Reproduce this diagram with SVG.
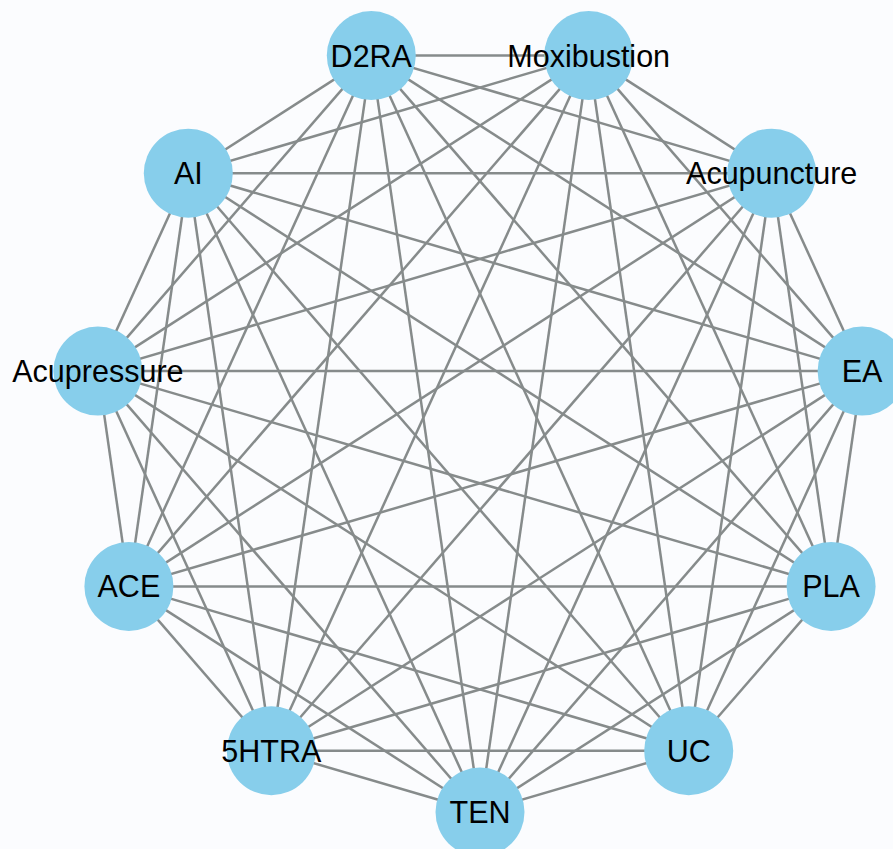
<svg xmlns="http://www.w3.org/2000/svg" width="893" height="849" viewBox="0 0 893 849">
<style>
.e{stroke:#868b8b;stroke-width:2.5;fill:none}
.n circle{fill:#87ceeb}
.n text{font-family:"Liberation Sans",Arial,sans-serif;font-size:30.5px;fill:#000;text-anchor:middle}
</style>
<rect width="893" height="849" fill="#fbfcfe"/>
<g id="edges" class="e">
<line x1="371.3" y1="55.6" x2="588.7" y2="55.6"/>
<line x1="371.3" y1="55.6" x2="771.7" y2="173.2"/>
<line x1="371.3" y1="55.6" x2="862.1" y2="371.1"/>
<line x1="371.3" y1="55.6" x2="831.1" y2="586.4"/>
<line x1="371.3" y1="55.6" x2="688.7" y2="750.7"/>
<line x1="371.3" y1="55.6" x2="480" y2="812"/>
<line x1="371.3" y1="55.6" x2="271.3" y2="750.7"/>
<line x1="371.3" y1="55.6" x2="128.9" y2="586.4"/>
<line x1="371.3" y1="55.6" x2="97.9" y2="371.1"/>
<line x1="371.3" y1="55.6" x2="188.3" y2="173.2"/>
<line x1="588.7" y1="55.6" x2="771.7" y2="173.2"/>
<line x1="588.7" y1="55.6" x2="862.1" y2="371.1"/>
<line x1="588.7" y1="55.6" x2="831.1" y2="586.4"/>
<line x1="588.7" y1="55.6" x2="688.7" y2="750.7"/>
<line x1="588.7" y1="55.6" x2="480" y2="812"/>
<line x1="588.7" y1="55.6" x2="271.3" y2="750.7"/>
<line x1="588.7" y1="55.6" x2="128.9" y2="586.4"/>
<line x1="588.7" y1="55.6" x2="97.9" y2="371.1"/>
<line x1="588.7" y1="55.6" x2="188.3" y2="173.2"/>
<line x1="771.7" y1="173.2" x2="862.1" y2="371.1"/>
<line x1="771.7" y1="173.2" x2="831.1" y2="586.4"/>
<line x1="771.7" y1="173.2" x2="688.7" y2="750.7"/>
<line x1="771.7" y1="173.2" x2="480" y2="812"/>
<line x1="771.7" y1="173.2" x2="271.3" y2="750.7"/>
<line x1="771.7" y1="173.2" x2="128.9" y2="586.4"/>
<line x1="771.7" y1="173.2" x2="97.9" y2="371.1"/>
<line x1="771.7" y1="173.2" x2="188.3" y2="173.2"/>
<line x1="862.1" y1="371.1" x2="831.1" y2="586.4"/>
<line x1="862.1" y1="371.1" x2="688.7" y2="750.7"/>
<line x1="862.1" y1="371.1" x2="480" y2="812"/>
<line x1="862.1" y1="371.1" x2="271.3" y2="750.7"/>
<line x1="862.1" y1="371.1" x2="128.9" y2="586.4"/>
<line x1="862.1" y1="371.1" x2="97.9" y2="371.1"/>
<line x1="862.1" y1="371.1" x2="188.3" y2="173.2"/>
<line x1="831.1" y1="586.4" x2="688.7" y2="750.7"/>
<line x1="831.1" y1="586.4" x2="480" y2="812"/>
<line x1="831.1" y1="586.4" x2="271.3" y2="750.7"/>
<line x1="831.1" y1="586.4" x2="128.9" y2="586.4"/>
<line x1="831.1" y1="586.4" x2="97.9" y2="371.1"/>
<line x1="831.1" y1="586.4" x2="188.3" y2="173.2"/>
<line x1="688.7" y1="750.7" x2="480" y2="812"/>
<line x1="688.7" y1="750.7" x2="271.3" y2="750.7"/>
<line x1="688.7" y1="750.7" x2="128.9" y2="586.4"/>
<line x1="688.7" y1="750.7" x2="97.9" y2="371.1"/>
<line x1="688.7" y1="750.7" x2="188.3" y2="173.2"/>
<line x1="480" y1="812" x2="271.3" y2="750.7"/>
<line x1="480" y1="812" x2="128.9" y2="586.4"/>
<line x1="480" y1="812" x2="97.9" y2="371.1"/>
<line x1="480" y1="812" x2="188.3" y2="173.2"/>
<line x1="271.3" y1="750.7" x2="128.9" y2="586.4"/>
<line x1="271.3" y1="750.7" x2="97.9" y2="371.1"/>
<line x1="271.3" y1="750.7" x2="188.3" y2="173.2"/>
<line x1="128.9" y1="586.4" x2="97.9" y2="371.1"/>
<line x1="128.9" y1="586.4" x2="188.3" y2="173.2"/>
<line x1="97.9" y1="371.1" x2="188.3" y2="173.2"/>
</g>
<g id="D2RA" class="n"><circle cx="371.3" cy="55.6" r="44.5"/><text x="371.3" y="66.6">D2RA</text></g>
<g id="Moxibustion" class="n"><circle cx="588.7" cy="55.6" r="44.5"/><text x="588.7" y="66.6">Moxibustion</text></g>
<g id="Acupuncture" class="n"><circle cx="771.7" cy="173.2" r="44.5"/><text x="771.7" y="184.2">Acupuncture</text></g>
<g id="EA" class="n"><circle cx="862.1" cy="371.1" r="44.5"/><text x="862.1" y="382.1">EA</text></g>
<g id="PLA" class="n"><circle cx="831.1" cy="586.4" r="44.5"/><text x="831.1" y="597.4">PLA</text></g>
<g id="UC" class="n"><circle cx="688.7" cy="750.7" r="44.5"/><text x="688.7" y="761.7">UC</text></g>
<g id="TEN" class="n"><circle cx="480" cy="812" r="44.5"/><text x="480" y="823">TEN</text></g>
<g id="5HTRA" class="n"><circle cx="271.3" cy="750.7" r="44.5"/><text x="271.3" y="761.7">5HTRA</text></g>
<g id="ACE" class="n"><circle cx="128.9" cy="586.4" r="44.5"/><text x="128.9" y="597.4">ACE</text></g>
<g id="Acupressure" class="n"><circle cx="97.9" cy="371.1" r="44.5"/><text x="97.9" y="382.1">Acupressure</text></g>
<g id="AI" class="n"><circle cx="188.3" cy="173.2" r="44.5"/><text x="188.3" y="184.2">AI</text></g>
</svg>
